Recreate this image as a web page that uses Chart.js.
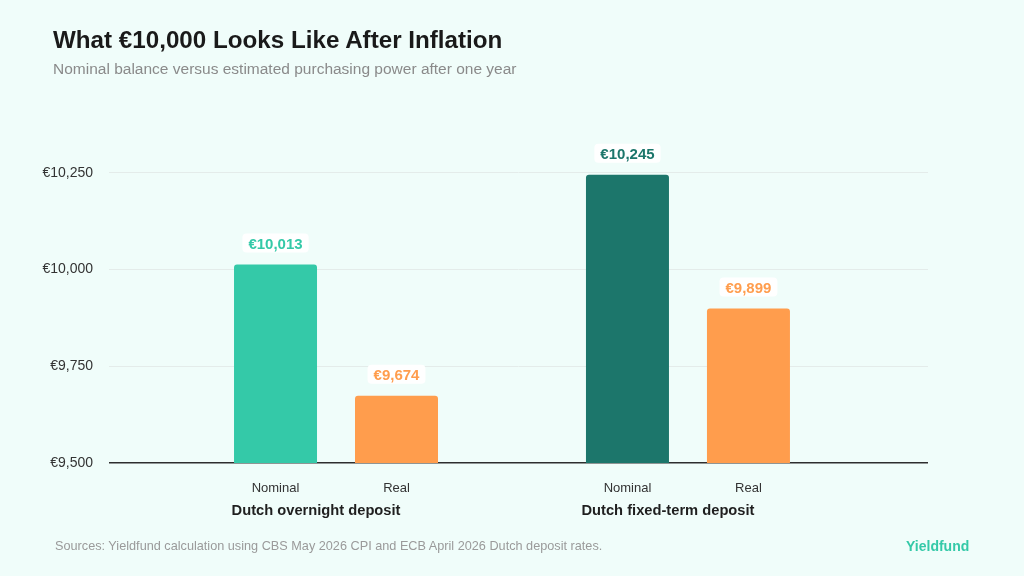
<!DOCTYPE html>
<html>
<head>
<meta charset="utf-8">
<script src="https://cdn.jsdelivr.net/npm/chart.js@4.4.1/dist/chart.umd.min.js"></script>
<style>
  html, body { margin: 0; padding: 0; }
  body { width: 1024px; height: 576px; background: #f0fdfa; position: relative; overflow: hidden;
         font-family: "Liberation Sans", Arial, sans-serif; }
  #wrap { position: absolute; left: 0; top: 0; width: 1024px; height: 576px; }
  .title { position: absolute; left: 53px; top: 26px; font-size: 24.2px; font-weight: bold; color: #1a1a1a; white-space: nowrap; }
  .subtitle { position: absolute; left: 53px; top: 60px; font-size: 15.5px; color: #8a8a8a; white-space: nowrap; }
  .source { position: absolute; left: 55px; top: 539px; font-size: 12.7px; color: #9a9a9a; white-space: nowrap; }
  .brand { position: absolute; left: 906px; top: 538px; font-size: 14px; font-weight: bold; color: #34c9a8; white-space: nowrap; }
</style>
</head>
<body>
<div id="wrap"><canvas id="c" width="1024" height="576"></canvas></div>
<div class="title">What €10,000 Looks Like After Inflation</div>
<div class="subtitle">Nominal balance versus estimated purchasing power after one year</div>
<div class="source">Sources: Yieldfund calculation using CBS May 2026 CPI and ECB April 2026 Dutch deposit rates.</div>
<div class="brand">Yieldfund</div>
<script>
const groups = ['Dutch overnight deposit', 'Dutch fixed-term deposit'];
const seriesNames = ['Nominal', 'Real'];
const nominalValues = [10013, 10245];
const realValues = [9674, 9899];
const yTicks = [9500, 9750, 10000, 10250];
const nominalColors = ['#34c9a8', '#1c766b'];
const realColor = '#ff9d4d';

const CAT_PCT = 0.6875;
const BAR_PCT = 0.686;
const fmt = v => '€' + v.toLocaleString('en-US');

const labelPlugin = {
  id: 'valueLabels',
  afterDatasetsDraw(chart) {
    const ctx = chart.ctx;
    ctx.save();
    ctx.font = 'bold 15px "Liberation Sans", Arial, sans-serif';
    ctx.textAlign = 'center';
    ctx.textBaseline = 'middle';
    chart.data.datasets.forEach((ds, di) => {
      const meta = chart.getDatasetMeta(di);
      meta.data.forEach((bar, i) => {
        const txt = fmt(ds.data[i].y);
        const w = ctx.measureText(txt).width + 12;
        const h = 19;
        const bottom = bar.y - 12;
        const top = bottom - h;
        ctx.fillStyle = '#ffffff';
        ctx.beginPath();
        ctx.roundRect(bar.x - w / 2, top, w, h, 4);
        ctx.fill();
        const col = Array.isArray(ds.backgroundColor) ? ds.backgroundColor[i] : ds.backgroundColor;
        ctx.fillStyle = col;
        ctx.fillText(txt, bar.x, top + h / 2 + 1.5);
      });
    });
    ctx.restore();
  }
};

const xMin = -0.645, xMax = 1.682;

new Chart(document.getElementById('c'), {
  type: 'bar',
  data: {
    datasets: [
      { label: seriesNames[0], data: nominalValues.map((v, i) => ({ x: i, y: v })),
        backgroundColor: nominalColors, borderRadius: 3, borderSkipped: 'bottom',
        categoryPercentage: CAT_PCT, barPercentage: BAR_PCT, xAxisID: 'x' },
      { label: seriesNames[1], data: realValues.map((v, i) => ({ x: i, y: v })),
        backgroundColor: realColor, borderRadius: 3, borderSkipped: 'bottom',
        categoryPercentage: CAT_PCT, barPercentage: BAR_PCT, xAxisID: 'x' }
    ]
  },
  options: {
    responsive: false,
    animation: false,
    layout: { padding: { left: 0, right: 96, top: 134, bottom: 52 } },
    plugins: { legend: { display: false }, tooltip: { enabled: false } },
    scales: {
      x: {
        type: 'linear', position: 'bottom', weight: 2, min: xMin, max: xMax, offset: false,
        grid: { display: false, offset: false }, border: { display: false },
        afterBuildTicks: s => { s.ticks = groups.map((g, i) => ({ value: i })); },
        afterFit: s => { s.height = 30; },
        ticks: {
          padding: 0, labelOffset: -20, autoSkip: false, maxRotation: 0,
          color: '#1f1f1f', font: { size: 14.7, weight: 'bold', family: '"Liberation Sans", Arial, sans-serif' },
          callback: (v, i) => groups[i]
        }
      },
      xs: {
        type: 'linear', position: 'bottom', weight: 1, min: xMin, max: xMax, offset: false,
        grid: { display: false, offset: false }, border: { display: false },
        afterBuildTicks: s => {
          s.ticks = groups.flatMap((g, i) => [{ value: i - CAT_PCT / 4 }, { value: i + CAT_PCT / 4 }]);
        },
        afterFit: s => { s.height = 31; },
        ticks: {
          padding: 10, autoSkip: false, maxRotation: 0,
          color: '#333333', font: { size: 13, family: '"Liberation Sans", Arial, sans-serif' },
          callback: (v, i) => seriesNames[i % 2]
        }
      },
      y: {
        min: 9500, max: 10350,
        afterBuildTicks: s => { s.ticks = yTicks.map(v => ({ value: v })); },
        afterFit: s => { s.width = 109; },
        border: { display: false },
        grid: {
          drawTicks: false,
          color: c => c.tick && c.tick.value === 9500 ? '#2e2e2e' : '#e4ecea',
          lineWidth: c => c.tick && c.tick.value === 9500 ? 1.5 : 1
        },
        ticks: {
          padding: 16, color: '#333333',
          font: { size: 14, family: '"Liberation Sans", Arial, sans-serif' },
          callback: v => fmt(v)
        }
      }
    }
  },
  plugins: [labelPlugin]
});
</script>
</body>
</html>
